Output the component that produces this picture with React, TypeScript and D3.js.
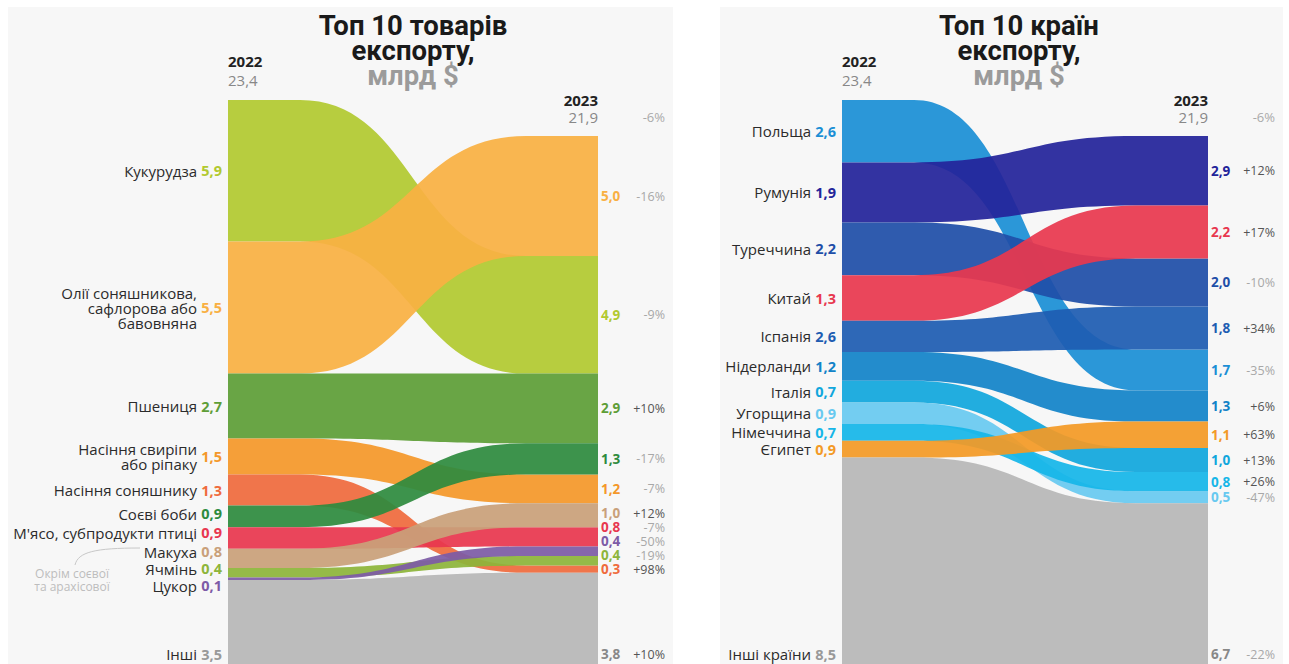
import * as d3 from "d3";

// ---- data: products ----
const productNames = [
  ["Кукурудза"],
  ["Олії соняшникова,", "сафлорова або", "бавовняна"],
  ["Пшениця"],
  ["Насіння свиріпи", "або ріпаку"],
  ["Насіння соняшнику"],
  ["Соєві боби"],
  ["М'ясо, субпродукти птиці"],
  ["Макуха"],
  ["Ячмінь"],
  ["Цукор"],
  ["Інші"],
];
const productValues2022 = [5.9, 5.5, 2.7, 1.5, 1.3, 0.9, 0.9, 0.8, 0.4, 0.1, 3.5];
const productValues2023 = [4.9, 5.0, 2.9, 1.2, 0.3, 1.3, 0.8, 1.0, 0.4, 0.4, 3.8];
const productOrder2023 = [1, 0, 2, 5, 3, 7, 6, 9, 8, 4, 10];
const productChanges = ["-9%", "-16%", "+10%", "-7%", "+98%", "-17%", "-7%", "+12%", "-19%", "-50%", "+10%"];
const productColors = [
  "#b2c930", "#f9b043", "#5e9e37", "#f4982a", "#ef6b3d", "#2e8b3e",
  "#e8374f", "#c9a07a", "#8db53a", "#7d5ba6", "#b7b7b7",
];

// ---- data: countries ----
const countryNames = [
  ["Польща"], ["Румунія"], ["Туреччина"], ["Китай"], ["Іспанія"], ["Нідерланди"],
  ["Італія"], ["Угорщина"], ["Німеччина"], ["Єгипет"], ["Інші країни"],
];
// bar heights as drawn in the picture
const countryValues2022 = [2.6, 2.5, 2.2, 1.9, 1.3, 1.2, 0.9, 0.9, 0.7, 0.7, 8.6];
// numbers printed next to the 2022 bars
const countryLabels2022 = ["2,6", "1,9", "2,2", "1,3", "2,6", "1,2", "0,7", "0,9", "0,7", "0,9", "8,5"];
const countryValues2023 = [1.7, 2.9, 2.0, 2.2, 1.8, 1.3, 1.0, 0.5, 0.8, 1.1, 6.7];
const countryOrder2023 = [1, 3, 2, 4, 0, 5, 9, 6, 8, 7, 10];
const countryChanges = ["-35%", "+12%", "-10%", "+17%", "+34%", "+6%", "+13%", "-47%", "+26%", "+63%", "-22%"];
const countryColors = [
  "#1b8fd5", "#23249a", "#1f4fa8", "#e8384f", "#1e5db2", "#1283c8",
  "#11a7dd", "#68c9f0", "#16b6e8", "#f39a26", "#b7b7b7",
];

const years = ["2022", "2023"];
const totals = ["23,4", "21,9"];
const totalChange = "-6%";

const FONT = "'Open Sans', sans-serif";
const TOP = 100;
const BOTTOM = 664;
const fmt = (v: number) => d3.format(".1f")(v).replace(".", ",");

function placeLabels(centers: number[], gap: number, mode: "avg" | "up") {
  const n = centers.length;
  const up = centers.slice();
  for (let i = n - 2; i >= 0; i--) up[i] = Math.min(centers[i], up[i + 1] - gap);
  if (mode === "up") return up;
  const down = centers.slice();
  for (let i = 1; i < n; i++) down[i] = Math.max(centers[i], down[i - 1] + gap);
  return centers.map((_, i) => (up[i] + down[i]) / 2);
}

function stack(values: number[], order: number[], total: number, y: d3.ScaleLinear<number, number>) {
  const out: [number, number][] = values.map(() => [0, 0]);
  let acc = total;
  order.forEach((i) => {
    out[i] = [y(acc), y(acc - values[i])];
    acc -= values[i];
  });
  return out;
}

type PanelProps = {
  title: string[];
  names: string[][];
  v22: number[];
  v23: number[];
  labels22: string[];
  order23: number[];
  changes: string[];
  colors: string[];
  x0: number;
  x1: number;
  titleX: number;
  bg: [number, number];
  note?: boolean;
};

function Panel(p: PanelProps) {
  const { x0, x1 } = p;
  const n = p.names.length;
  const sum22 = d3.sum(p.v22);
  const sum23 = d3.sum(p.v23);
  const y = d3.scaleLinear().domain([0, Math.max(sum22, sum23)]).range([BOTTOM, TOP]);
  const left = stack(p.v22, d3.range(n), sum22, y);
  const right = stack(p.v23, p.order23, sum23, y);

  const f = 72;
  const xm = (x0 + x1) / 2;
  const ribbon = (i: number) => {
    const [a0, a1] = left[i];
    const [b0, b1] = right[i];
    const path = d3.path();
    path.moveTo(x0, a0);
    path.lineTo(x0 + f, a0);
    path.bezierCurveTo(xm, a0, xm, b0, x1 - f, b0);
    path.lineTo(x1, b0);
    path.lineTo(x1, b1);
    path.lineTo(x1 - f, b1);
    path.bezierCurveTo(xm, b1, xm, a1, x0 + f, a1);
    path.lineTo(x0, a1);
    path.closePath();
    return path.toString();
  };

  // label positions
  const main = d3.range(n - 1);
  const leftY = placeLabels(main.map((i) => (left[i][0] + left[i][1]) / 2), 17, "avg");
  const leftLabelY = [...leftY, BOTTOM - 10];
  const rightMain = p.order23.slice(0, n - 1);
  const rightY = placeLabels(rightMain.map((i) => (right[i][0] + right[i][1]) / 2), 14, "up");
  const rightLabelY: number[] = new Array(n);
  rightMain.forEach((i, k) => (rightLabelY[i] = rightY[k]));
  rightLabelY[n - 1] = BOTTOM - 10;

  const valEnd = x0 - 6;
  const nameEnd = x0 - 31;
  const valStart = x1 + 3;
  const pctEnd = x1 + 67;
  const lh = 15;

  return (
    <g>
      <rect x={p.bg[0]} y={7} width={p.bg[1] - p.bg[0]} height={664} fill="#f7f7f7" />
      {/* title */}
      {p.title.map((t, k) => (
        <text
          key={k}
          x={p.titleX}
          y={25 + k * 25}
          textAnchor="middle"
          dominantBaseline="central"
          fontFamily="Roboto, sans-serif"
          fontWeight={700}
          fontSize={27.5}
          fill={k === 2 ? "#9b9b9b" : "#1a1a1a"}
        >
          {t}
        </text>
      ))}
      {/* years */}
      <text x={x0} y={61} dominantBaseline="central" fontFamily={FONT} fontWeight={700} fontSize={15} fill="#222">
        {years[0]}
      </text>
      <text x={x0} y={80} dominantBaseline="central" fontFamily={FONT} fontSize={15} fill="#888">
        {totals[0]}
      </text>
      <text x={x1} y={100} textAnchor="end" dominantBaseline="central" fontFamily={FONT} fontWeight={700} fontSize={15} fill="#222">
        {years[1]}
      </text>
      <text x={x1} y={117} textAnchor="end" dominantBaseline="central" fontFamily={FONT} fontSize={15} fill="#888">
        {totals[1]}
      </text>
      <text x={pctEnd} y={117} textAnchor="end" dominantBaseline="central" fontFamily={FONT} fontSize={13} fill="#aaa">
        {totalChange}
      </text>

      {/* ribbons */}
      {d3.range(n).map((i) => (
        <path key={i} d={ribbon(i)} fill={p.colors[i]} fillOpacity={0.93} />
      ))}

      {/* left labels */}
      {d3.range(n).map((i) => {
        const cy = leftLabelY[i];
        const lines = p.names[i];
        return (
          <g key={i} fontFamily={FONT} fontSize={15}>
            {lines.map((l, k) => (
              <text
                key={k}
                x={nameEnd}
                y={cy + (k - (lines.length - 1) / 2) * lh}
                textAnchor="end"
                dominantBaseline="central"
                fill="#2b2b2b"
              >
                {l}
              </text>
            ))}
            <text x={valEnd} y={cy} textAnchor="end" dominantBaseline="central" fontWeight={700} fontSize={14.5} fill={p.colors[i] === "#b7b7b7" ? "#999" : p.colors[i]}>
              {p.labels22[i]}
            </text>
          </g>
        );
      })}

      {/* right labels */}
      {d3.range(n).map((i) => {
        const cy = rightLabelY[i];
        const pos = p.changes[i].startsWith("+");
        return (
          <g key={i} fontFamily={FONT} fontSize={13.5}>
            <text x={valStart} y={cy} dominantBaseline="central" fontWeight={700} fill={p.colors[i] === "#b7b7b7" ? "#888" : p.colors[i]}>
              {fmt(p.v23[i])}
            </text>
            <text x={pctEnd} y={cy} textAnchor="end" dominantBaseline="central" fontSize={12.5} fill={pos ? "#555" : "#a8a8a8"}>
              {p.changes[i]}
            </text>
          </g>
        );
      })}

      {p.note && (
        <g fontFamily={FONT} fontSize={12} fill="#bdbdbd">
          <path d="M75,565 C78,552 95,548 140,548" fill="none" stroke="#c8c8c8" strokeWidth={1} />
          <text x={72} y={573} textAnchor="middle" dominantBaseline="central">
            Окрім соєвої
          </text>
          <text x={72} y={586} textAnchor="middle" dominantBaseline="central">
            та арахісової
          </text>
        </g>
      )}
    </g>
  );
}

export default function App() {
  return (
    <svg
      width={1289}
      height={664}
      style={{ position: "absolute", left: 0, top: 0, display: "block", background: "#fff" }}
    >
      <Panel
        title={["Топ 10 товарів", "експорту,", "млрд $"]}
        names={productNames}
        v22={productValues2022}
        v23={productValues2023}
        labels22={productValues2022.map(fmt)}
        order23={productOrder2023}
        changes={productChanges}
        colors={productColors}
        x0={228}
        x1={598}
        titleX={413}
        bg={[8, 673]}
        note
      />
      <Panel
        title={["Топ 10 країн", "експорту,", "млрд $"]}
        names={countryNames}
        v22={countryValues2022}
        v23={countryValues2023}
        labels22={countryLabels2022}
        order23={countryOrder2023}
        changes={countryChanges}
        colors={countryColors}
        x0={842}
        x1={1208}
        titleX={1019}
        bg={[720, 1283]}
      />
    </svg>
  );
}
